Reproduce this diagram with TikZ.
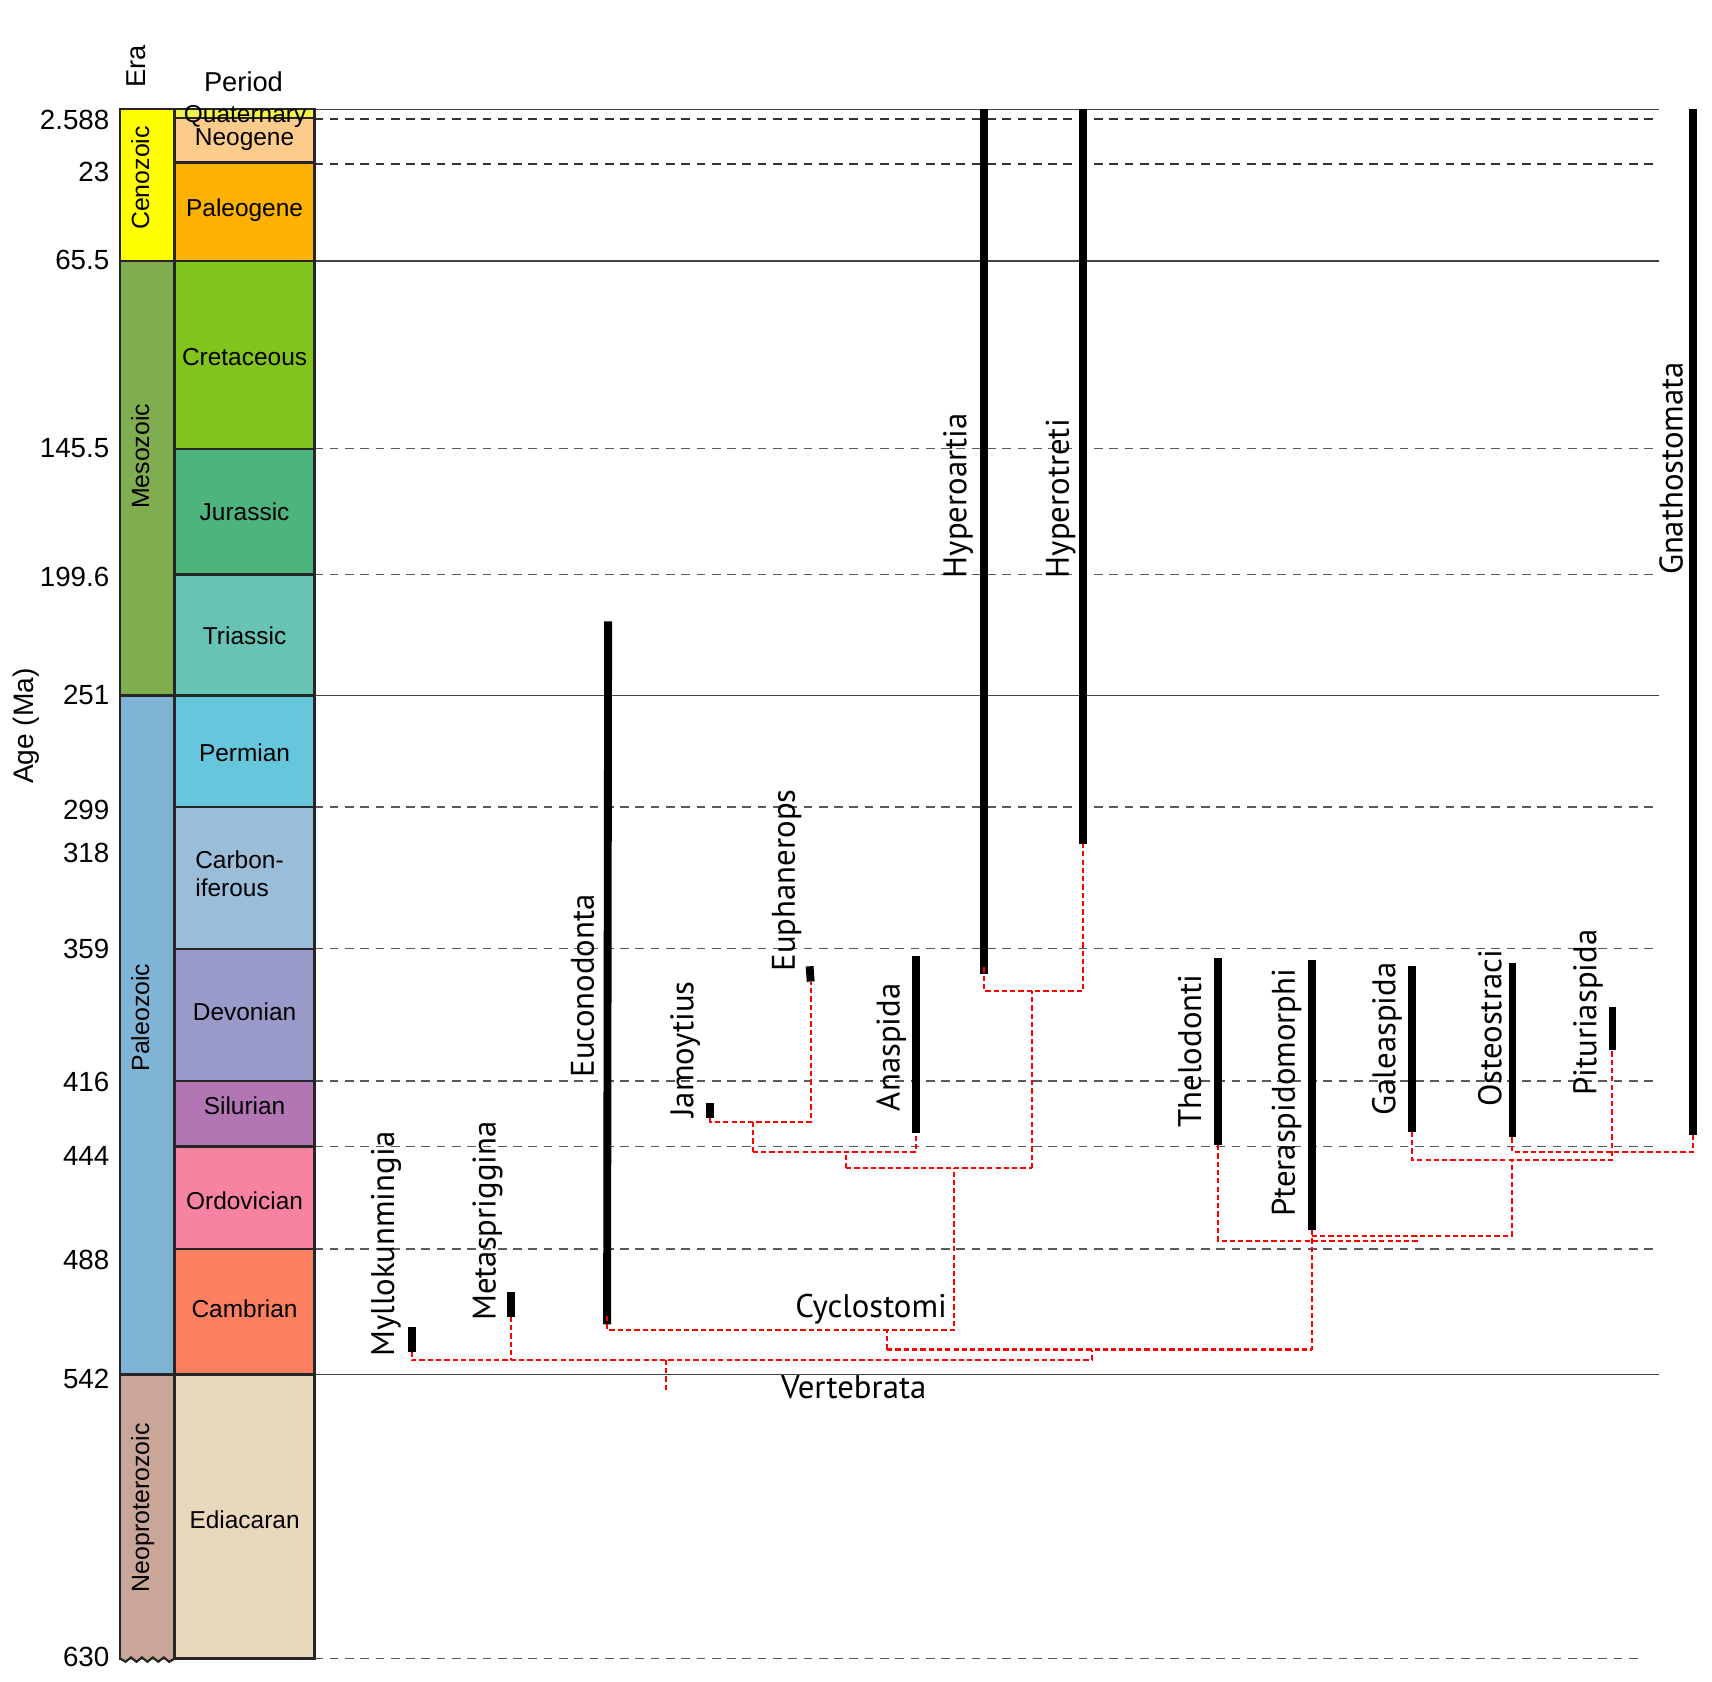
\documentclass[tikz,border=0pt]{standalone}
\usepackage{fontspec}
\setmainfont{Liberation Sans}
\newfontfamily\taxfont{PT Sans}
\definecolor{cCeno}{HTML}{FFFF00}
\definecolor{cMeso}{HTML}{7FAD50}
\definecolor{cPaleo}{HTML}{80B4D6}
\definecolor{cNeopro}{HTML}{C9A697}
\definecolor{cQuat}{HTML}{F2F24B}
\definecolor{cNeog}{HTML}{FDCB8C}
\definecolor{cPaleog}{HTML}{FDB102}
\definecolor{cCret}{HTML}{80C41C}
\definecolor{cJura}{HTML}{4EB47E}
\definecolor{cTria}{HTML}{67C4B5}
\definecolor{cPerm}{HTML}{66C6DC}
\definecolor{cCarb}{HTML}{9ABDDA}
\definecolor{cDevo}{HTML}{999ACA}
\definecolor{cSilu}{HTML}{B276B4}
\definecolor{cOrdo}{HTML}{F782A2}
\definecolor{cCamb}{HTML}{FA8060}
\definecolor{cEdia}{HTML}{E9D8BC}
\definecolor{lineg}{HTML}{444444}
\definecolor{linem}{HTML}{5A5A5A}
\begin{document}
\begin{tikzpicture}[x=0.5pt,y=-0.5pt,
  box/.style={draw=black!85, line width=1.1pt},
  hline/.style={draw=lineg, line width=0.55pt},
  dline/.style={draw=linem, line width=0.6pt, dash pattern=on 4pt off 3pt},
  dlinetop/.style={draw=black!80, line width=0.75pt, dash pattern=on 4pt off 3pt},
  bar/.style={line width=3.6pt, black},
  tree/.style={draw=red, line width=0.95pt, dash pattern=on 2.4pt off 1.4pt},
  tax/.style={rotate=90, anchor=base west, inner sep=0pt, font=\taxfont\fontsize{15}{18}\selectfont},
  clade/.style={anchor=base west, inner sep=0pt, font=\taxfont\fontsize{15}{18}\selectfont},
  num/.style={anchor=base east, inner sep=0pt, font=\fontsize{12.7}{15}\selectfont},
  per/.style={anchor=base, inner sep=0pt, font=\fontsize{11.2}{13}\selectfont},
  eralab/.style={rotate=90, anchor=base, inner sep=0pt, font=\fontsize{11.4}{13}\selectfont},
  head/.style={inner sep=0pt, font=\fontsize{12.5}{15}\selectfont}]
\useasboundingbox (0,0) rectangle (1568,1540);

% ---------- horizontal time lines ----------
\foreach \y in {100,239,637,1259} \draw[hline] (288,\y) -- (1519,\y);
\foreach \y in {109,150} \draw[dlinetop] (288,\y) -- (1517,\y);
\foreach \y in {411,526,739,869,990,1050,1144} \draw[dline] (288,\y) -- (1517,\y);
\draw[dline] (288,1519) -- (1500,1519);

% ---------- era column ----------
\draw[box, fill=cCeno] (110,100) rectangle (160,239);
\draw[box, fill=cMeso] (110,239) rectangle (160,637);
\draw[box, fill=cPaleo] (110,637) rectangle (160,1259);
\fill[cNeopro] (110,1259) rectangle (160,1520);
\draw[box] (110,1520) -- (110,1259) -- (160,1259) -- (160,1520);
\draw[black!85, line width=1pt] (110,1519) -- (115,1522) -- (120,1518) -- (125,1522) -- (130,1518) -- (135,1522) -- (140,1518) -- (145,1522) -- (150,1518) -- (155,1522) -- (160,1519);

% ---------- period column ----------
\draw[box, fill=cQuat] (160,100) rectangle (288,108);
\draw[box, fill=cNeog] (160,108) rectangle (288,149);
\draw[box, fill=cPaleog] (160,149) rectangle (288,239);
\draw[box, fill=cCret] (160,239) rectangle (288,411);
\draw[box, fill=cJura] (160,411) rectangle (288,526);
\draw[box, fill=cTria] (160,526) rectangle (288,637);
\draw[box, fill=cPerm] (160,637) rectangle (288,739);
\draw[box, fill=cCarb] (160,739) rectangle (288,869);
\draw[box, fill=cDevo] (160,869) rectangle (288,990);
\draw[box, fill=cSilu] (160,990) rectangle (288,1050);
\draw[box, fill=cOrdo] (160,1050) rectangle (288,1144);
\draw[box, fill=cCamb] (160,1144) rectangle (288,1259);
\draw[box, fill=cEdia] (160,1259) rectangle (288,1519);

% ---------- headers ----------
\node[head, rotate=90, anchor=base west] (hEra) at (133,81) {Era};
\node[head, anchor=base] (hPeriod) at (223,84) {Period};
\node[head, rotate=90, anchor=base, font=\fontsize{12.9}{15}\selectfont] (hAge) at (31,665) {Age (Ma)};

% ---------- era names ----------
\node[eralab] (eCeno) at (136.5,163) {Cenozoic};
\node[eralab] (eMeso) at (136.5,418) {Mesozoic};
\node[eralab] (ePaleo) at (136.5,932) {Paleozoic};
\node[eralab] (eNeo) at (136.5,1381) {Neoproterozoic};

% ---------- period names ----------
\node[per] (pQuat) at (224.5,112) {Quaternary};
\node[per] (pNeog) at (224,133) {Neogene};
\node[per] (pPaleog) at (224,198) {Paleogene};
\node[per] (pCret) at (224,335) {Cretaceous};
\node[per] (pJura) at (224,477) {Jurassic};
\node[per] (pTria) at (224,590) {Triassic};
\node[per] (pPerm) at (224,697) {Permian};
\node[per, anchor=base west] (pCarb1) at (178.5,795) {Carbon-};
\node[per, anchor=base west] (pCarb2) at (178.5,821) {iferous};
\node[per] (pDevo) at (224,935) {Devonian};
\node[per] (pSilu) at (224,1021) {Silurian};
\node[per] (pOrdo) at (224,1108) {Ordovician};
\node[per] (pCamb) at (224,1207) {Cambrian};
\node[per] (pEdia) at (224,1400) {Ediacaran};

% ---------- age numbers ----------
\node[num] (a1) at (100.5,118.5) {2.588};
\node[num] (a2) at (100.5,166) {23};
\node[num] (a3) at (100.5,247) {65.5};
\node[num] (a4) at (100.5,419) {145.5};
\node[num] (a5) at (100.5,537) {199.6};
\node[num] (a6) at (100.5,645.5) {251};
\node[num] (a7) at (100.5,751) {299};
\node[num] (a8) at (100.5,790) {318};
\node[num] (a9) at (100.5,878) {359};
\node[num] (a10) at (100.5,1000) {416};
\node[num] (a11) at (100.5,1067) {444};
\node[num] (a12) at (100.5,1163) {488};
\node[num] (a13) at (100.5,1272) {542};
\node[num] (a14) at (100.5,1526) {630};

% ---------- taxon range bars ----------
\coordinate (myl-t) at (377,1215);   \coordinate (myl-b) at (377,1238);
\coordinate (met-t) at (468,1183);   \coordinate (met-b) at (468,1206);
\coordinate (euc-t) at (557,569);    \coordinate (euc-b) at (556,1213);
\coordinate (jam-t) at (650.5,1010); \coordinate (jam-b) at (650.5,1024);
\coordinate (eup-t) at (741.5,885);  \coordinate (eup-b) at (742.5,899);
\coordinate (ana-t) at (839,876);    \coordinate (ana-b) at (839,1037.5);
\coordinate (hoa-t) at (901,100);    \coordinate (hoa-b) at (901,892);
\coordinate (hot-t) at (992.2,100);  \coordinate (hot-b) at (992.2,773);
\coordinate (the-t) at (1115.3,877); \coordinate (the-b) at (1115.3,1048.7);
\coordinate (pte-t) at (1201.4,879); \coordinate (pte-b) at (1201.4,1126.6);
\coordinate (gal-t) at (1293.6,884.5); \coordinate (gal-b) at (1293.6,1036.5);
\coordinate (ost-t) at (1385.2,882); \coordinate (ost-b) at (1385.2,1041.7);
\coordinate (pit-t) at (1476.8,922); \coordinate (pit-b) at (1476.8,961.7);
\coordinate (gna-t) at (1550.7,100); \coordinate (gna-b) at (1550.7,1039.6);

\foreach \t in {myl,met,euc,jam,eup,ana,hoa,hot,the,pte,gal,ost,pit,gna}
  \draw[bar] (\t-t) -- (\t-b);

% ---------- taxon labels ----------
\node[tax] (lMyl) at (361,1243) {Myllokunmingia};
\node[tax] (lMet) at (454,1210) {Metaspriggina};
\node[tax] (lEuc) at (544,987) {Euconodonta};
\node[tax] (lJam) at (635,1024) {Jamoytius};
\node[tax] (lEup) at (728,890) {Euphanerops};
\node[tax] (lAna) at (824,1018) {Anaspida};
\node[tax] (lHoa) at (885,530) {Hyperoartia};
\node[tax] (lHot) at (979,530) {Hyperotreti};
\node[tax] (lThe) at (1100,1033) {Thelodonti};
\node[tax] (lPte) at (1186,1115) {Pteraspidomorphi};
\node[tax] (lGal) at (1278,1022) {Galeaspida};
\node[tax] (lOst) at (1375,1014) {Osteostraci};
\node[tax] (lPit) at (1462,1004) {Pituriaspida};
\node[tax] (lGna) at (1541,527) {Gnathostomata};
\node[clade] (lCyc) at (728,1207) {Cyclostomi};
\node[clade] (lVer) at (715,1281) {Vertebrata};

% ---------- cladogram (red dashed) ----------
\coordinate (root) at (610,1273);
\coordinate (vR) at (1000,1246);
\coordinate (hA) at (812.5,1236);
\coordinate (hB) at (1201.4,1236);
\coordinate (cB) at (874,1218);
\coordinate (dA) at (775,1070);
\coordinate (dB) at (945.5,1070);
\coordinate (eA) at (689.4,1055);
\coordinate (fB) at (742.5,1027.3);
\coordinate (gB) at (992.2,907.4);
\coordinate (kB) at (1384.5,1132);
\coordinate (tB) at (1298,1136.4);
\coordinate (qB) at (1476.8,1062.5);
\coordinate (oB) at (1550.7,1055);

% Vertebrata root
\draw[tree] (myl-b) |- (vR) -- (vR |- hA);
\draw[tree] (met-b) -- (met-b |- vR);
\draw[tree] (root) -- (root |- vR);
\draw[tree] (hA) -- (hB);
% Cyclostomi
\draw[tree] ([yshift=4pt]euc-b) |- (cB) -- (cB |- dA);
\draw[tree] (hA) -- (hA |- cB);
\draw[tree] (dA) -- (dB);
\draw[tree] (dA) -- (dA |- eA);
\draw[tree] (eA) -| (ana-b);
\draw[tree] (eA) -- (eA |- fB);
\draw[tree] (jam-b) |- (fB) -- (eup-b);
\draw[tree] (dB) -- (dB |- gB);
\draw[tree] ([yshift=3pt]hoa-b) |- (gB) -- (hot-b);
% Gnathostome stem
\draw[tree] (pte-b) -- (hB);
\draw[tree] (pte-b |- kB) -- (kB) -- (kB |- qB);
\draw[tree] (the-b) |- (tB) -- (tB |- kB);
\draw[tree] (gal-b) |- (qB) -- (pit-b);
\draw[tree] (ost-b) |- (oB) -- (gna-b);
\end{tikzpicture}
\end{document}
